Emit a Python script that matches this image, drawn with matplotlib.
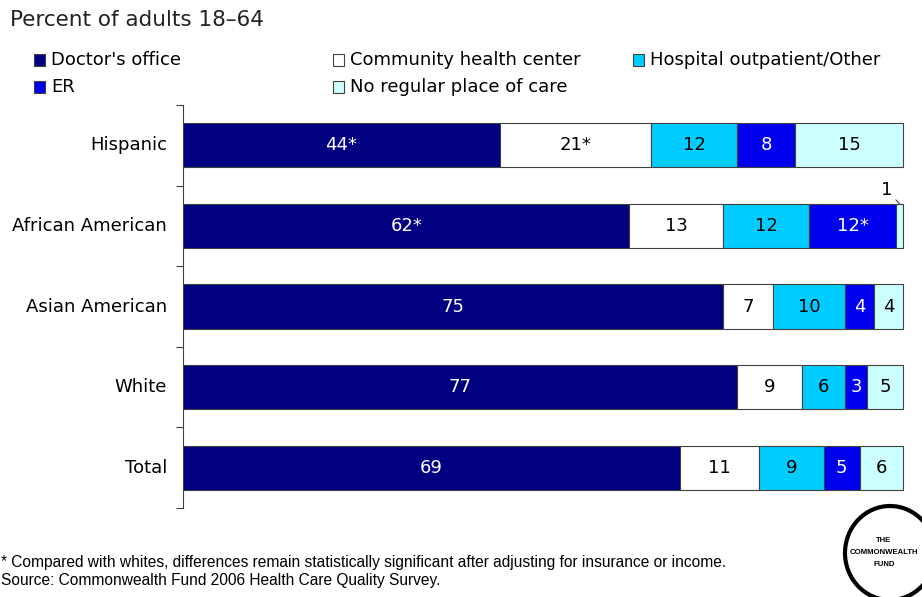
import numpy as np
import matplotlib.pyplot as plt
from matplotlib.patches import Ellipse

groups = ["Hispanic", "African American", "Asian American", "White", "Total"]
series = ["Doctor's office", "Community health center", "Hospital outpatient/Other",
          "ER", "No regular place of care"]
doctor = [44, 62, 75, 77, 69]
community = [21, 13, 7, 9, 11]
hospital = [12, 12, 10, 6, 9]
er = [8, 12, 4, 3, 5]
no_place = [15, 1, 4, 5, 6]
# asterisk = significant difference vs whites
doctor_star = [True, True, False, False, False]
community_star = [True, False, False, False, False]
er_star = [False, True, False, False, False]
no_star = [False] * 5

colors = ["#000080", "#FFFFFF", "#00CCFF", "#0000EE", "#CCFFFF"]
text_colors = ["white", "black", "black", "white", "black"]

data = [doctor, community, hospital, er, no_place]
stars = [doctor_star, community_star, no_star, er_star, no_star]

fig = plt.figure(figsize=(9.22, 5.97), dpi=100)
ax = fig.add_axes([183/922, 1 - 508/597, 1 - 183/922, (508 - 105)/597])

y = np.arange(len(groups))
left = np.zeros(len(groups))
for vals, st, c, tc in zip(data, stars, colors, text_colors):
    ax.barh(y, vals, left=left, height=0.55, color=c, edgecolor="#404040", linewidth=0.8)
    for i, (v, s) in enumerate(zip(vals, st)):
        if v >= 3:
            ax.text(left[i] + v / 2, y[i], f"{v}*" if s else f"{v}", ha="center", va="center",
                    color=tc, fontsize=13)
    left += np.array(vals)

# the 1% segment gets an outside label with a leader line
i = groups.index("African American")
x_small = left[i] - no_place[i] / 2
ax.annotate(f"{no_place[i]}", xy=(x_small, y[i] - 0.275), xytext=(x_small - 1.8, y[i] - 0.45),
            ha="center", va="center", fontsize=13,
            arrowprops=dict(arrowstyle="-", color="#404040", lw=0.8, shrinkA=1, shrinkB=0))

ax.set_xlim(0, 739 / 7.2)
ax.set_ylim(len(groups) - 0.5, -0.5)
ax.set_yticks(np.arange(len(groups) + 1) - 0.5)
ax.set_yticklabels([])
ax.tick_params(axis="y", direction="out", length=5, color="#404040")
for i, g in enumerate(groups):
    ax.text(-2.2, i, g, ha="right", va="center", fontsize=13)
ax.set_xticks([])
for s in ["top", "right", "bottom"]:
    ax.spines[s].set_visible(False)
ax.spines["left"].set_color("#404040")

fig.text(10/922, 1 - 20/597, "Percent of adults 18\u201364", fontsize=15.5, va="center",
         color="#222222")

# legend drawn by hand in a fixed grid
leg_pos = [(35, 60), (334, 60), (634, 60), (35, 87), (334, 87)]
for (lx, ly), name, c in zip(leg_pos, series, colors):
    fig.patches.append(plt.Rectangle(((lx - 1)/922, 1 - (ly + 6)/597), 11/922, 12/597,
                                     transform=fig.transFigure, facecolor=c,
                                     edgecolor="#404040", linewidth=0.8))
    fig.text((lx + 16)/922, 1 - ly/597, name, fontsize=13, va="center")

fig.text(1/922, 1 - 563/597,
         "* Compared with whites, differences remain statistically significant after adjusting for insurance or income.",
         fontsize=11.2, family="Liberation Sans", va="center")
fig.text(1/922, 1 - 581/597, "Source: Commonwealth Fund 2006 Health Care Quality Survey.",
         fontsize=11.2, family="Liberation Sans", va="center")

# logo
fig.patches.append(Ellipse((890/922, 1 - 553/597), 90/922, 94/597, transform=fig.transFigure,
                           facecolor="white", edgecolor="black", linewidth=3))
fig.text(884/922, 1 - 553/597, "THE\nCOMMONWEALTH\nFUND", ha="center", va="center",
         fontsize=5.6, fontweight="bold", linespacing=2.0, family="Liberation Sans")

fig.savefig("out.png", dpi=100)
